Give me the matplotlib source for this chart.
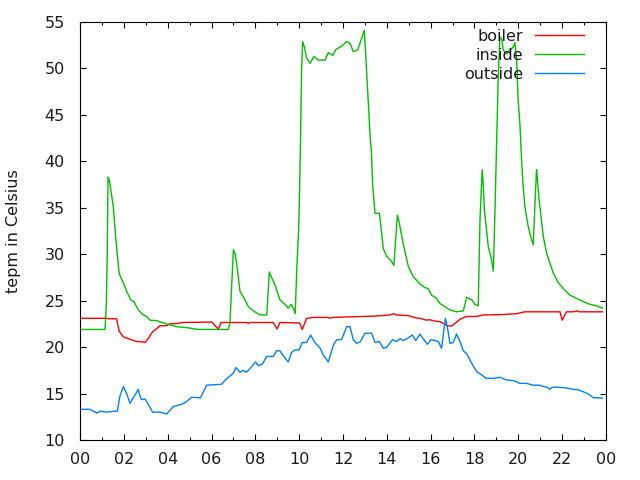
import numpy as np
import matplotlib
matplotlib.use("Agg")
import matplotlib.pyplot as plt

# (hour of day, temperature in C)
boiler = [
    (0.00, 23.1), (1.25, 23.1), (1.30, 23.05), (1.67, 23.05), (1.79, 21.7),
    (1.98, 21.1), (2.28, 20.85), (2.59, 20.6), (2.89, 20.55), (2.97, 20.5),
    (3.12, 20.95), (3.31, 21.65), (3.50, 22.0), (3.65, 22.3), (3.95, 22.3),
    (4.10, 22.5), (4.49, 22.55), (4.64, 22.65), (6.00, 22.7), (6.08, 22.55),
    (6.20, 22.2), (6.32, 21.95), (6.43, 22.65), (7.60, 22.65), (7.68, 22.55),
    (7.76, 22.65), (8.82, 22.65), (9.00, 21.95), (9.12, 22.65), (10.02, 22.6),
    (10.14, 21.9), (10.34, 23.1), (10.64, 23.2), (11.30, 23.2), (11.40, 23.1),
    (11.55, 23.2), (12.93, 23.3), (13.54, 23.35), (14.14, 23.46), (14.32, 23.6),
    (14.44, 23.46), (14.98, 23.4), (15.28, 23.17), (15.51, 23.1), (15.81, 22.9),
    (15.95, 22.95), (16.20, 22.8), (16.42, 22.74), (16.58, 22.55), (16.76, 22.3),
    (16.96, 22.27), (17.11, 22.55), (17.34, 23.0), (17.64, 23.3), (18.10, 23.3),
    (18.40, 23.46), (19.24, 23.5), (19.92, 23.6), (20.07, 23.68), (20.30, 23.8),
    (21.90, 23.8), (22.00, 22.9), (22.20, 23.8), (22.50, 23.8), (22.66, 23.9),
    (22.80, 23.8), (23.84, 23.8),
]

inside = [
    (0.00, 21.9), (1.14, 21.9), (1.20, 24.5), (1.24, 29.9), (1.28, 38.3),
    (1.33, 38.0), (1.37, 37.5), (1.52, 35.1), (1.64, 31.5), (1.79, 27.9),
    (1.98, 26.9), (2.13, 26.0), (2.31, 25.1), (2.46, 24.9), (2.66, 24.0),
    (2.86, 23.5), (3.04, 23.3), (3.19, 22.9), (3.50, 22.85), (3.95, 22.5),
    (4.41, 22.2), (4.87, 22.1), (5.40, 21.9), (6.77, 21.9), (6.84, 22.6),
    (7.00, 30.5), (7.07, 30.1), (7.15, 29.0), (7.30, 26.0), (7.53, 25.1),
    (7.68, 24.35), (7.91, 23.9), (8.21, 23.46), (8.52, 23.46), (8.64, 28.1),
    (8.70, 27.7), (8.90, 26.7), (9.12, 25.1), (9.31, 24.7), (9.50, 24.2),
    (9.63, 24.6), (9.73, 24.2), (9.82, 23.6), (9.88, 27.7), (9.98, 33.0),
    (10.02, 37.0), (10.07, 43.4), (10.11, 49.8), (10.16, 52.9), (10.24, 52.3),
    (10.34, 51.1), (10.49, 50.55), (10.68, 51.3), (10.87, 50.9), (11.18, 50.9),
    (11.33, 51.7), (11.53, 51.4), (11.68, 52.05), (11.94, 52.4), (12.17, 52.9),
    (12.32, 52.7), (12.47, 51.8), (12.67, 52.0), (12.77, 52.7), (12.97, 54.1),
    (13.05, 50.9), (13.15, 46.6), (13.23, 43.0), (13.30, 40.9), (13.35, 37.6),
    (13.46, 34.4), (13.66, 34.4), (13.73, 33.0), (13.84, 30.6), (13.99, 29.8),
    (14.22, 29.2), (14.32, 28.8), (14.42, 32.25), (14.48, 34.2), (14.55, 33.6),
    (14.75, 31.1), (14.98, 28.7), (15.20, 27.6), (15.51, 26.8), (15.74, 26.4),
    (15.89, 26.3), (16.04, 25.6), (16.27, 25.25), (16.42, 24.7), (16.65, 24.35),
    (16.88, 24.0), (17.18, 23.8), (17.49, 23.9), (17.64, 25.35), (17.87, 25.1),
    (18.02, 24.6), (18.17, 24.45), (18.25, 33.7), (18.35, 39.1), (18.40, 37.5),
    (18.45, 34.8), (18.63, 30.8), (18.78, 29.4), (18.86, 28.2), (18.93, 34.3),
    (19.01, 41.9), (19.08, 48.8), (19.16, 53.4), (19.24, 53.2), (19.31, 52.0),
    (19.46, 51.55), (19.62, 52.0), (19.77, 52.3), (19.84, 52.8), (19.92, 51.1),
    (19.99, 46.6), (20.07, 44.1), (20.15, 40.1), (20.22, 37.3), (20.30, 35.1),
    (20.45, 33.0), (20.56, 31.9), (20.68, 31.0), (20.76, 35.5), (20.83, 39.1),
    (20.86, 38.35), (20.95, 35.8), (21.14, 31.9), (21.29, 30.1), (21.59, 28.0),
    (21.82, 26.95), (22.05, 26.3), (22.35, 25.6), (22.66, 25.25), (22.96, 24.9),
    (23.27, 24.6), (23.57, 24.45), (23.84, 24.2),
]

outside = [
    (0.00, 13.3), (0.46, 13.3), (0.76, 12.9), (0.94, 13.1), (1.20, 13.0),
    (1.60, 13.1), (1.70, 13.1), (1.82, 14.7), (1.98, 15.75), (2.13, 15.0),
    (2.28, 13.95), (2.51, 14.85), (2.66, 15.45), (2.74, 14.7), (2.81, 14.35),
    (2.97, 14.4), (3.12, 13.8), (3.31, 13.0), (3.65, 13.0), (3.95, 12.8),
    (4.26, 13.6), (4.41, 13.7), (4.64, 13.85), (4.84, 14.1), (5.09, 14.6),
    (5.40, 14.55), (5.50, 14.55), (5.78, 15.9), (6.46, 16.0), (6.69, 16.6),
    (7.00, 17.2), (7.12, 17.8), (7.30, 17.3), (7.45, 17.5), (7.60, 17.3),
    (7.83, 17.9), (8.01, 18.4), (8.14, 18.0), (8.33, 18.2), (8.52, 19.0),
    (8.82, 19.0), (8.97, 19.6), (9.12, 19.6), (9.31, 18.97), (9.50, 18.4),
    (9.65, 19.4), (9.80, 19.7), (10.00, 19.7), (10.14, 20.5), (10.34, 20.5),
    (10.52, 21.3), (10.72, 20.5), (10.95, 19.9), (11.10, 19.15), (11.33, 18.4),
    (11.56, 20.2), (11.71, 20.8), (11.93, 20.8), (12.17, 22.2), (12.32, 22.2),
    (12.47, 20.8), (12.62, 20.4), (12.80, 20.6), (13.00, 21.5), (13.31, 21.5),
    (13.46, 20.5), (13.66, 20.6), (13.84, 19.87), (13.99, 19.97), (14.26, 20.8),
    (14.44, 20.6), (14.60, 20.9), (14.75, 20.7), (14.98, 21.0), (15.17, 21.3),
    (15.32, 20.7), (15.51, 21.4), (15.85, 20.3), (16.01, 20.8), (16.20, 20.7),
    (16.35, 20.6), (16.50, 19.87), (16.60, 21.84), (16.67, 23.1), (16.76, 22.2),
    (16.88, 20.4), (17.03, 20.5), (17.18, 21.4), (17.34, 20.6), (17.49, 19.6),
    (17.64, 19.3), (17.87, 18.26), (18.10, 17.36), (18.33, 17.0), (18.52, 16.64),
    (18.86, 16.64), (19.16, 16.75), (19.46, 16.46), (19.77, 16.4), (20.07, 16.1),
    (20.37, 16.1), (20.68, 15.9), (20.98, 15.9), (21.14, 15.75), (21.29, 15.7),
    (21.44, 15.45), (21.52, 15.65), (21.74, 15.7), (22.20, 15.6), (22.51, 15.45),
    (22.73, 15.4), (22.96, 15.2), (23.19, 14.95), (23.42, 14.55), (23.65, 14.55),
    (23.84, 14.5),
]

x_ticks = list(range(0, 25, 2))
x_ticklabels = ["00", "02", "04", "06", "08", "10", "12",
                "14", "16", "18", "20", "22", "00"]
y_ticks = list(range(10, 56, 5))

series = [("boiler", boiler, "#ff0000"),
          ("inside", inside, "#00c000"),
          ("outside", outside, "#0080ff")]

fig = plt.figure(figsize=(6.4, 4.8), dpi=100, facecolor="white")
ax = fig.add_axes([80 / 640, 40 / 480, 526 / 640, 418 / 480])

for name, pts, color in series:
    h, t = np.array(pts).T
    ax.plot(h, t, color=color, linewidth=1.0, label=name)

ax.set_xlim(0, 24)
ax.set_ylim(10, 55)
ax.set_xticks(x_ticks)
ax.set_xticklabels(x_ticklabels)
ax.set_xticks(range(1, 24, 2), minor=True)
ax.set_yticks(y_ticks)

text_color = "#1a1a1a"
fs = 11.5
ax.tick_params(which="both", direction="in", top=True, right=True,
               labelsize=fs, labelcolor=text_color, width=0.8)
ax.tick_params(which="major", length=4.5)
ax.tick_params(which="minor", length=2.5)
ax.tick_params(axis="y", pad=11)
ax.tick_params(axis="x", pad=9)
for spine in ax.spines.values():
    spine.set_linewidth(0.8)
    spine.set_color("black")

ax.set_ylabel("tepm in Celsius", fontsize=fs, color=text_color)
ax.yaxis.set_label_coords(-0.112, 0.5)

ax.legend(loc="upper right", frameon=False, markerfirst=False, fontsize=fs,
          handlelength=3.1, handletextpad=0.75, labelspacing=0.24,
          borderaxespad=0.3, bbox_to_anchor=(0.98, 1.01), labelcolor=text_color)

fig.savefig("out.png", dpi=100)
